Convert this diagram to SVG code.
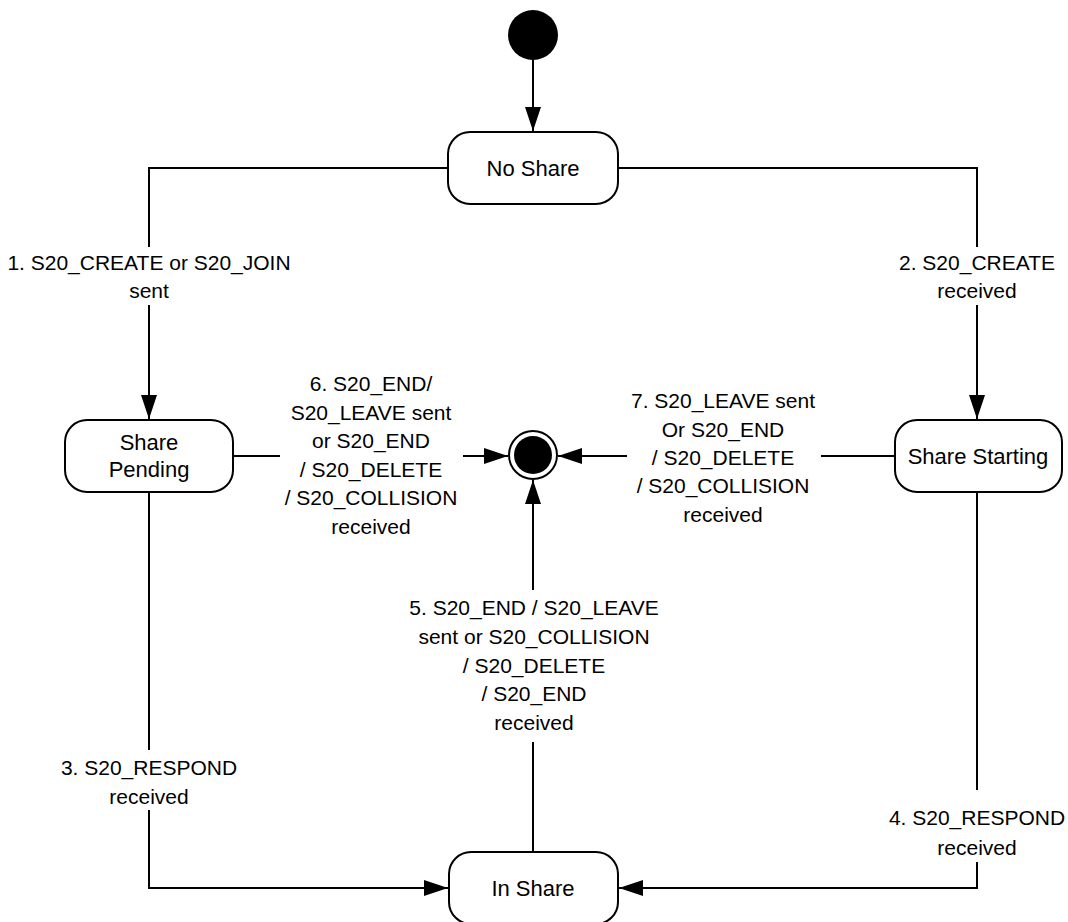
<svg xmlns="http://www.w3.org/2000/svg" width="1068" height="922" viewBox="0 0 1068 922">
<defs>
<style>
.node rect{fill:#fff;stroke:#000;stroke-width:2}
.nt{font-family:"Liberation Sans",Arial,sans-serif;font-size:22px;fill:#000;text-anchor:middle}
.lbl{font-family:"Liberation Sans",Arial,sans-serif;font-size:21px;fill:#000;text-anchor:middle}
.edge{fill:none;stroke:#000;stroke-width:2}
</style>
<marker id="arr" markerUnits="userSpaceOnUse" markerWidth="24" markerHeight="16" refX="24" refY="8" orient="auto">
<path d="M0,0 L24,8 L0,16 Z" fill="#000"/>
</marker>
</defs>
<rect width="1068" height="922" fill="#fff"/>
<g id="connectors">
<path class="edge" d="M533,60 V131" marker-end="url(#arr)"/>
<path class="edge" d="M448,168 H149 V247 M149,305 V419" marker-end="url(#arr)"/>
<path class="edge" d="M618,168 H977 V247 M977,305 V419" marker-end="url(#arr)"/>
<path class="edge" d="M233,456 H280 M463,456 H508" marker-end="url(#arr)"/>
<path class="edge" d="M895,456 H821 M627,456 H558" marker-end="url(#arr)"/>
<path class="edge" d="M533,852 V742 M533,590 V480" marker-end="url(#arr)"/>
<path class="edge" d="M149,492 V750 M149,810 V888 H448" marker-end="url(#arr)"/>
<path class="edge" d="M977,492 V790 M977,862 V888 H619" marker-end="url(#arr)"/>
</g>
<g id="labels">
<text class="lbl" x="149" y="270">1. S20_CREATE or S20_JOIN</text>
<text class="lbl" x="149" y="298">sent</text>
<text class="lbl" x="977" y="270">2. S20_CREATE</text>
<text class="lbl" x="977" y="298">received</text>
<text class="lbl" x="149" y="775">3. S20_RESPOND</text>
<text class="lbl" x="149" y="804">received</text>
<text class="lbl" x="977" y="825">4. S20_RESPOND</text>
<text class="lbl" x="977" y="855">received</text>
<text class="lbl" x="534" y="615">5. S20_END / S20_LEAVE</text>
<text class="lbl" x="534" y="644">sent or S20_COLLISION</text>
<text class="lbl" x="534" y="673">/ S20_DELETE</text>
<text class="lbl" x="534" y="701">/ S20_END</text>
<text class="lbl" x="534" y="730">received</text>
<text class="lbl" x="371" y="391">6. S20_END/</text>
<text class="lbl" x="371" y="420">S20_LEAVE sent</text>
<text class="lbl" x="371" y="448">or S20_END</text>
<text class="lbl" x="371" y="477">/ S20_DELETE</text>
<text class="lbl" x="371" y="505">/ S20_COLLISION</text>
<text class="lbl" x="371" y="534">received</text>
<text class="lbl" x="723" y="408">7. S20_LEAVE sent</text>
<text class="lbl" x="723" y="437">Or S20_END</text>
<text class="lbl" x="723" y="465">/ S20_DELETE</text>
<text class="lbl" x="723" y="493">/ S20_COLLISION</text>
<text class="lbl" x="723" y="522">received</text>
</g>
<g id="initial">
<circle cx="533" cy="35" r="25" fill="#000"/>
</g>
<g id="final">
<circle cx="533" cy="455" r="24" fill="#fff" stroke="#000" stroke-width="2"/>
<circle cx="533" cy="455" r="19" fill="#000"/>
</g>
<g id="no-share" class="node">
<rect x="448" y="132" width="170" height="72" rx="22"/>
<text class="nt" x="533" y="176">No Share</text>
</g>
<g id="share-pending" class="node">
<rect x="65" y="420" width="168" height="72" rx="22"/>
<text class="nt" x="149" y="450">Share</text>
<text class="nt" x="149" y="477">Pending</text>
</g>
<g id="share-starting" class="node">
<rect x="895" y="420" width="167" height="72" rx="22"/>
<text class="nt" x="978" y="464">Share Starting</text>
</g>
<g id="in-share" class="node">
<rect x="449" y="852" width="169" height="72" rx="22"/>
<text class="nt" x="533" y="896">In Share</text>
</g>
</svg>
